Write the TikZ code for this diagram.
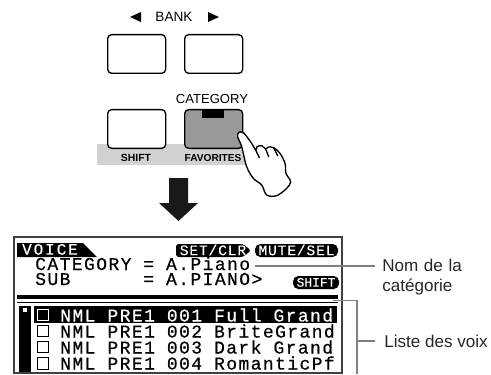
\documentclass[tikz,border=0pt]{standalone}
\usepackage{fontspec}
\setmainfont{Liberation Sans}
\newfontfamily\lcdfont[RawFeature={embolden=0.5},LetterSpace=7.8]{Liberation Mono}
\newfontfamily\lcdtag[RawFeature={embolden=0.1},LetterSpace=5.5]{Liberation Mono}
\newfontfamily\lcdhead[RawFeature={embolden=0.35},LetterSpace=12]{Liberation Mono}
\newfontfamily\lcdshift[RawFeature={embolden=0.2}]{Liberation Mono}
\newcommand\lcdsetup{\lcdfont\fontsize{13.5}{14}\selectfont\spaceskip=9pt\relax}
\definecolor{stripgray}{gray}{0.82}
\definecolor{keygray}{gray}{0.6}
\definecolor{leadgray}{gray}{0.5}
\tikzset{
  key/.style={draw=black,line width=1pt,rounded corners=3pt,fill=white,minimum width=43.5pt,minimum height=29pt,anchor=north west},
  lcdtext/.style={font=\lcdsetup,inner sep=0pt,anchor=west,text height=9pt,text depth=0pt},
  lcdsmall/.style={text=white,inner sep=0pt,text height=7pt,text depth=0pt},
  panel/.style={inner sep=0pt,text=black},
  leader/.style={draw=leadgray,line width=1.2pt},
  callout/.style={font=\fontsize{12.8}{15}\selectfont,inner sep=0pt,anchor=west,text=black!85},
  checkbox/.style={draw,line width=1pt,minimum width=8.6pt,minimum height=8.6pt,inner sep=0pt}
}
\begin{document}
\begin{tikzpicture}[x=0.75pt,y=-0.75pt]
\useasboundingbox (0,0) rectangle (491,374);
% panel
\fill[stripgray] (97,144) rectangle (247,165);
\node[key] (k1) at (107,34) {};
\node[key] (k2) at (184,34) {};
\node[key] (k3) at (107,109) {};
\node[key,fill=keygray] (k4) at (184,109) {};
\fill[black] (202,110) rectangle (224,118);
\node[panel,font=\fontsize{10.2}{12}\selectfont] (bank) at (174,17) {BANK};
\fill[black] (130,17) -- (141,12) -- (141,22) -- cycle;
\fill[black] (219,17) -- (208,12) -- (208,22) -- cycle;
\node[panel,font=\fontsize{9.8}{12}\selectfont] (cat) at (212,99) {CATEGORY};
\node[panel,font=\bfseries\fontsize{7.8}{10}\selectfont] (shiftl) at (136,158) {SHIFT};
\node[panel,font=\bfseries\fontsize{7.6}{10}\selectfont] (fav) at (213,158) {FAVORITES};
% hand
\begin{scope}[shift={(225,125)},x=0.25pt,y=-0.25pt]
\draw[fill=white,line width=1pt,line join=round] plot[smooth cycle,tension=0.55] coordinates {
 (42,22) (56,24) (80,55) (92,75) (96,65) (110,62) (122,72) (130,66) (146,68) (165,85) (180,115) (183,145) (197,170) (185,190) (155,212) (125,210) (110,180) (85,160) (65,125) (50,65) (38,35)};
\draw[line width=1pt,line cap=round] (92,75) .. controls (96,85) .. (103,98);
\draw[line width=1pt,line cap=round] (122,72) .. controls (125,82) .. (131,95);
\draw[line width=1pt,line cap=round] (146,68) .. controls (152,78) .. (158,92);
\end{scope}
% big arrow
\fill[black!90] (169,178) -- (188,178) -- (188,203) -- (198,203) -- (178.5,221) -- (159,203) -- (169,203) -- cycle;
% screen
\draw[black!75,line width=1.1pt] (14,373) -- (14,237) -- (342,237) -- (342,373) -- cycle;
\fill[black] (17,243) -- (83,243) -- (97,257) -- (17,257) -- cycle;
\node[lcdsmall,font=\lcdhead\fontsize{12}{13}\selectfont] (voice) at (50,250) {VOICE};
\fill[black,rounded corners=2pt] (176,244) -- (243,244) -- (251,250.5) -- (243,257) -- (176,257) -- cycle;
\node[lcdsmall,font=\lcdtag\fontsize{11}{12}\selectfont] (setclr) at (213,250.5) {SET/CLR};
\fill[black,rounded corners=4pt] (255,244) rectangle (338,257);
\node[lcdsmall,font=\lcdtag\fontsize{11}{12}\selectfont] (mute) at (296.5,250.5) {MUTE/SEL};
\fill[black,rounded corners=4pt] (293,276) rectangle (339,289);
\node[lcdsmall,text height=6.2pt,font=\lcdshift\fontsize{9.7}{10}\selectfont] (shiftb) at (316,282.5) {SHIFT};
\node[lcdtext] (l1) at (35,264) {CATEGORY};
\node[lcdtext] (l1b) at (143,264) {= A.Piano};
\node[lcdtext] (l2) at (35,279) {SUB};
\node[lcdtext] (l2b) at (143,279) {= A.PIANO>};
\fill[black] (17,295) rectangle (338,299);
\draw[black,line width=0.6pt] (17,302) -- (338,302);
\coordinate (listtop) at (333,300.5);
% list
\fill[black] (19,306) rectangle (31,372);
\fill[white] (23,308) rectangle (27,312);
\fill[black] (34,306) rectangle (337,322.5);
\node[checkbox,draw=white] (c1) at (43,315) {};
\node[checkbox] (c2) at (43,331) {};
\node[checkbox] (c3) at (43,347) {};
\node[checkbox] (c4) at (43,363.5) {};
\node[lcdtext,text=white] (r1) at (60,315.5) {NML PRE1 001 Full Grand};
\node[lcdtext] (r2) at (60,331.5) {NML PRE1 002 BriteGrand};
\node[lcdtext] (r3) at (60,347.5) {NML PRE1 003 Dark Grand};
\node[lcdtext] (r4) at (60,363.5) {NML PRE1 004 RomanticPf};
% callouts
\node[callout,align=left,anchor=north west,text width=90pt] (nom) at (382,259) {Nom de la\\cat\'egorie};
\node[callout] (liste) at (384,341) {Liste des voix};
\coordinate (nomin) at (375,266);
\coordinate (catend) at (255,266);
\coordinate (bend) at (357,300.5);
\coordinate (bbot) at (357,374);
\coordinate (bmid) at (357,341);
\coordinate (lin) at (375,341);
\draw[leader] (catend) -- (nomin);
\draw[leader] (listtop) -- (bend) -- (bbot);
\draw[leader] (bmid) -- (lin);
\end{tikzpicture}
\end{document}
